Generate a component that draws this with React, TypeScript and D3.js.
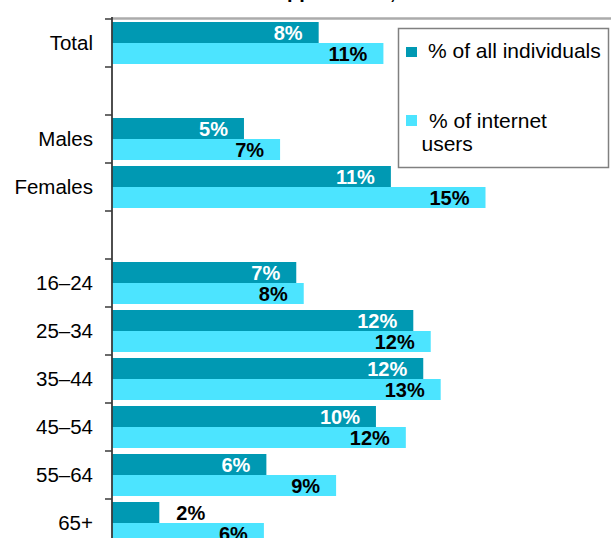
import React from "react";
import * as d3 from "d3";

const categories = ["Total", "", "Males", "Females", "", "16–24", "25–34", "35–44", "45–54", "55–64", "65+"];
// bar lengths (%); null = spacer row
const allIndividuals: (number | null)[] = [8.3, null, 5.3, 11.2, null, 7.4, 12.1, 12.5, 10.6, 6.2, 1.9];
const internetUsers: (number | null)[] = [10.9, null, 6.75, 15.0, null, 7.7, 12.8, 13.2, 11.8, 9.0, 6.1];
// printed data labels
const allLabels = ["8%", "", "5%", "11%", "", "7%", "12%", "12%", "10%", "6%", "2%"];
const internetLabels = ["11%", "", "7%", "15%", "", "8%", "12%", "13%", "12%", "9%", "6%"];
const seriesNames = ["% of all individuals", "% of internet users"];

const DARK = "#0099B3";
const LIGHT = "#4CE4FF";
const FONT = "'Liberation Sans', Arial, sans-serif";

export default function App() {
  const W = 611, H = 538;
  const axisX = 112;
  const x = d3.scaleLinear().domain([0, 20]).range([axisX, 610]);
  const y = d3
    .scaleBand<number>()
    .domain(d3.range(categories.length))
    .range([19, 19 + categories.length * 48])
    .paddingInner(0.125)
    .paddingOuter(0.0625);
  const bw = y.bandwidth();
  const half = bw / 2;
  const step = y.step();
  const ticks = d3.range(categories.length + 1).map((i) => 19 + i * step);

  const labelEl = (v: number, lab: string, yc: number, inside: string, key: string) => {
    const end = x(v);
    const width = end - axisX;
    const fits = width > 60;
    return (
      <text
        key={key}
        x={fits ? end - 16 : end + 17}
        y={yc + 7.5}
        textAnchor={fits ? "end" : "start"}
        fontFamily={FONT}
        fontWeight="bold"
        fontSize={20}
        fill={fits ? inside : "#000"}
      >
        {lab}
      </text>
    );
  };

  return (
    <svg width={W} height={H} style={{ position: "absolute", left: 0, top: 0, background: "#fff" }}>
      {/* title fragments cut off at the top */}
      <text x={287} y={-2} fontFamily={FONT} fontWeight="bold" fontSize={20} fill="#000">pp</text>
      <text x={390} y={-1} fontFamily={FONT} fontWeight="bold" fontSize={20} fill="#000">,</text>

      {/* top border */}
      <line x1={axisX} x2={W} y1={18.5} y2={18.5} stroke="#ababab" strokeWidth={2.5} />

      {/* bars */}
      {categories.map((c, i) => {
        const a = allIndividuals[i];
        const b = internetUsers[i];
        const y0 = y(i)!;
        return (
          <g key={"g" + i}>
            {a !== null && (
              <rect x={axisX} y={y0} width={x(a) - axisX} height={half} fill={DARK} />
            )}
            {b !== null && (
              <rect x={axisX} y={y0 + half} width={x(b) - axisX} height={half} fill={LIGHT} />
            )}
            {a !== null && labelEl(a, allLabels[i], y0 + half / 2, "#fff", "la" + i)}
            {b !== null && labelEl(b, internetLabels[i], y0 + half * 1.5, "#000", "lb" + i)}
          </g>
        );
      })}

      {/* axis */}
      <line x1={axisX} x2={axisX} y1={17} y2={H} stroke="#3a3a3a" strokeWidth={1.8} />
      {ticks.map((t, i) => (
        <line key={"t" + i} x1={105} x2={axisX} y1={t} y2={t} stroke="#3a3a3a" strokeWidth={1.5} />
      ))}
      {categories.map((c, i) => (
        <text
          key={"c" + i}
          x={93}
          y={y(i)! + bw / 2 + 7}
          textAnchor="end"
          fontFamily={FONT}
          fontSize={20.5}
          fill="#000"
        >
          {c}
        </text>
      ))}

      {/* legend */}
      <rect x={398.5} y={28.5} width={210} height={139} fill="#fff" stroke="#808080" strokeWidth={1.5} />
      <rect x={406} y={47} width={11} height={10} fill={DARK} />
      <text x={428} y={57.5} fontFamily={FONT} fontSize={21} fill="#000">{seriesNames[0]}</text>
      <rect x={406} y={115} width={11} height={11} fill={LIGHT} />
      <text x={429} y={127.5} fontFamily={FONT} fontSize={21} fill="#000">% of internet</text>
      <text x={421.5} y={151} fontFamily={FONT} fontSize={21} fill="#000">users</text>
    </svg>
  );
}
